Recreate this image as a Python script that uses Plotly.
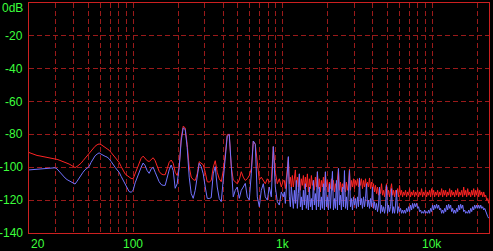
import numpy as np
import plotly.graph_objects as go

# ---- data (dB) ----
# low band: 20 Hz .. ~1 kHz, log-spaced samples
red_low = [-91,-91.5,-92,-92.5,-92.8,-93,-93.2,-93.4,-93.6,-93.8,
           -94,-94.2,-94.4,-94.6,-95.2,-95.6,-96,-96.5,-97,-97.5,
           -98,-98.7,-99.5,-100.2,-99.5,-98.6,-97.5,-96,-94.5,-93,
           -91.5,-90,-88.5,-87.2,-86.3,-85.8,-86.2,-87,-88,-88.8,
           -89.6,-91,-92.5,-94,-95.6,-97,-99.5,-102,-104,-105,
           -106,-106.8,-107,-104,-101,-98,-94.5,-93.2,-94.5,-96,
           -96.5,-95,-94.2,-96,-100,-102.5,-104,-104.5,-104.5,-101,
           -97,-95.6,-97.5,-103,-105,-100,-82,-75,-76,-86,
           -100,-106,-107.5,-108,-104,-96.6,-97.5,-98.5,-103,-108.8,
           -109,-108,-100,-96,-103,-107,-108.8,-102,-92,-80,
           -80,-99.6,-107.7,-109,-110,-107.7,-102.7,-106,-108,-107,
           -105,-101,-84,-86,-97,-107.7,-106,-108,-110,-107,
           -109,-108,-87.4,-103,-110,-107,-112,-108]
blue_low = [-101.6,-101.5,-101.4,-101.3,-101.2,-101,-100.9,-100.8,-100.7,-100.6,
            -100.5,-100.4,-100.3,-100.3,-101,-102.5,-104,-105.5,-106.5,-107.5,
            -108.3,-109,-109.7,-110.2,-108.5,-106.5,-104.5,-103,-101.5,-100.5,
            -99.6,-97,-94.5,-93,-92,-91.2,-92,-92.8,-93.3,-93.8,
            -94.8,-96.5,-98.5,-100,-101.6,-103,-105.5,-108,-110.8,-113,
            -114.8,-115.2,-114,-109.5,-106,-103.7,-100,-97.4,-99,-102,
            -103.7,-101,-100,-103,-106,-108.8,-110.5,-111,-111,-106,
            -101.6,-98.6,-102,-112.8,-110,-100,-84,-76,-77,-88,
            -106,-116,-118.9,-114,-105,-97.6,-99.6,-104,-112,-118.9,
            -119,-118.5,-104,-99.6,-112,-119,-120.9,-106,-93,-81,
            -80,-100.6,-118,-114,-112,-118.9,-114,-112,-109.8,-118,
            -119.9,-104,-84,-86,-118,-124,-114,-110,-118,-120,
            -112,-118,-87.4,-112,-121,-123,-115,-118]

# high band: ~1 kHz .. 24 kHz, dense log-spaced samples
red_high = [-108,-113,-106,-97,-94,-110,-106,-113,-105,-112,
            -107,-101.6,-113,-106,-112,-104,-114,-107,-111,-105,
            -113,-106,-112,-104,-115,-107,-113,-105,-111,-108,
            -114,-106,-112,-102.7,-113,-107,-115,-108,-112,-106,
            -114,-103,-112,-108,-115,-109,-113,-107,-114,-108,
            -115,-110,-113,-108,-101,-114,-109,-115,-110,-113,
            -108,-115,-109,-114,-110,-101,-114,-108,-112,-107,
            -113,-108,-111,-107,-112,-106.5,-111,-107,-113,-108,
            -112,-107,-113,-109,-112,-106.5,-113,-109,-114,-110,
            -115,-111,-116,-112,-117,-113,-116,-110,-117,-114,
            -118,-113,-110,-117,-114,-118,-113,-110,-117,-114,
            -118,-114,-117,-113,-118,-111,-117,-114,-118,-115,
            -117,-114,-118,-115,-117,-113,-118,-115,-117,-114,
            -118,-115,-117,-114,-118,-115,-117,-113,-118,-115,
            -117,-114,-118,-115,-117,-114,-118,-113,-117,-114,
            -118,-115,-117,-114,-118,-115,-117,-113,-118,-114,
            -117,-114,-118,-115,-117,-113,-118,-114,-117,-115,
            -118,-114,-117,-113,-118,-115,-117,-114,-118,-112,
            -117,-114,-118,-113,-117,-115,-118,-114,-117,-113,
            -118,-114,-117,-113,-118,-114,-117,-115,-118,-115,
            -118,-117,-120,-119,-122]
blue_high = [-115,-122,-113,-100,-93.5,-118,-124,-112,-120,-125,
             -114,-122,-108,-125,-116,-104,-124,-118,-126,-114,
             -123,-110,-125,-117,-126,-112,-124,-119,-126,-108,
             -123,-116,-126,-102.7,-124,-112,-126,-118,-125,-110,
             -126,-102.7,-124,-118,-126,-110,-125,-116,-102.5,-126,
             -119,-125,-108,-126,-100.7,-123,-117,-126,-112,-124,
             -102,-125,-118,-126,-113,-102,-124,-119,-126,-118,
             -123,-119,-125,-118,-124,-106.5,-123,-119,-125,-118,
             -124,-119,-110,-124,-120,-125,-119,-124,-112,-125,
             -121,-126,-122,-127,-123,-112,-128,-123,-127,-124,
             -128,-124,-111,-128,-123,-127,-124,-113,-128,-124,
             -128,-123,-114,-128,-124,-127,-125,-128,-126,-128,
             -126,-128,-125,-127,-124,-127,-123,-126,-122,-125,
             -122,-124,-122,-125,-124,-127,-126,-128,-127,-128,
             -126,-128,-127,-128,-126,-128,-125,-127,-123,-126,
             -123,-125,-122.5,-125,-123,-126,-125,-128,-126,-128,
             -125,-127,-123,-126,-122.5,-125,-123,-127,-125,-128,
             -126,-128,-125,-127,-123,-126,-122.5,-125,-123,-127,
             -126,-128,-127,-128,-126,-128,-125,-127,-124,-126,
             -123,-125,-123,-125,-123,-125,-123,-125,-124,-126,
             -125,-127,-128,-130,-131]

freq_low = np.geomspace(20, 1008, len(red_low))
freq_high = np.geomspace(1024, 23900, len(red_high))
freq = np.concatenate([freq_low, freq_high])
red = red_low + red_high
blue = blue_low + blue_high

y_ticks = [-140, -120, -100, -80, -60, -40, -20, 0]
y_labels = ["-140", "-120", "-100", "-80", "-60", "-40", "-20", "0dB"]
x_grid = [30, 40, 50, 60, 70, 80, 90, 100, 200, 300, 400, 500, 600, 700, 800, 900,
          1000, 2000, 3000, 4000, 5000, 6000, 7000, 8000, 9000, 10000, 20000]
x_label_vals = [20, 100, 1000, 10000]
x_label_text = ["20", "100", "1k", "10k"]

GREEN = "#3cff3c"
GRID = "#9a1a1a"
FONT = "Liberation Sans Narrow, Liberation Sans, Arial"

fig = go.Figure()
fig.add_trace(go.Scatter(x=freq, y=red, mode="lines",
                         line=dict(color="#ff2424", width=1), hoverinfo="skip"))
fig.add_trace(go.Scatter(x=freq, y=blue, mode="lines",
                         line=dict(color="#7272ff", width=1), hoverinfo="skip"))

for v, t in zip(x_label_vals, x_label_text):
    fig.add_annotation(x=np.log10(v), y=0, xref="x", yref="paper",
                       text=t, showarrow=False, yanchor="top", yshift=-2,
                       xanchor="left" if v == 20 else "center",
                       font=dict(color=GREEN, size=12, family=FONT))

for v, t in zip(y_ticks, y_labels):
    fig.add_annotation(x=0, y=v, xref="paper", yref="y", text=t, showarrow=False,
                       xanchor="right", xshift=-4,
                       yanchor="top" if v == 0 else "middle",
                       yshift=4 if v == 0 else 0,
                       font=dict(color=GREEN, size=12, family=FONT))

fig.update_layout(
    width=493, height=251,
    margin=dict(l=29, r=4, t=3, b=18),
    paper_bgcolor="black", plot_bgcolor="black",
    showlegend=False,
    xaxis=dict(type="log", range=[np.log10(20), np.log10(24000)],
               tickvals=x_grid, showticklabels=False, ticks="",
               showgrid=True, gridcolor=GRID, griddash="5px,3px", gridwidth=1,
               showline=True, linecolor="#cc2020", linewidth=1, mirror=True,
               zeroline=False, fixedrange=True),
    yaxis=dict(range=[-140, 0], tickvals=y_ticks, showticklabels=False, ticks="",
               showgrid=True, gridcolor=GRID, griddash="5px,3px", gridwidth=1,
               showline=True, linecolor="#cc2020", linewidth=1, mirror=True,
               zeroline=False, fixedrange=True),
)

fig.write_html("out.html", config={"displayModeBar": False})
